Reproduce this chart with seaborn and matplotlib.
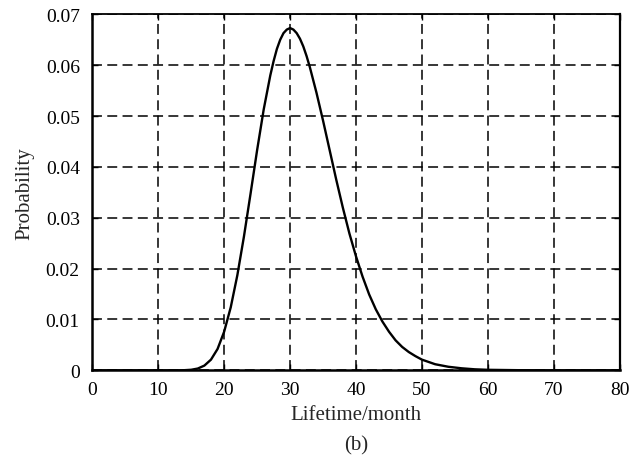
import matplotlib
matplotlib.use("Agg")
import matplotlib.pyplot as plt
import seaborn as sns
import pandas as pd

lifetime = [0, 5, 10, 13, 14, 15, 16, 17, 18, 19, 20, 21, 22, 23, 24, 25, 26, 27, 27.5,
            28, 28.5, 29, 29.5, 30, 30.5, 31, 31.5, 32, 32.5, 33, 34, 35, 36, 37, 38,
            39, 40, 41, 42, 43, 44, 45, 46, 47, 48, 49, 50, 52, 54, 56, 58, 60, 65,
            70, 75, 80]
probability = [0.0, 0.0, 0.0, 0.0, 0.00003, 0.00011, 0.00035, 0.00093, 0.0021, 0.0042,
               0.0076, 0.0124, 0.0187, 0.0263, 0.0347, 0.0433, 0.0513, 0.0580, 0.0608,
               0.0632, 0.0650, 0.0663, 0.0670, 0.0673, 0.0670, 0.0663, 0.0652, 0.0637,
               0.0618, 0.0596, 0.0546, 0.0491, 0.0433, 0.0375, 0.0320, 0.0269, 0.0224,
               0.0184, 0.0149, 0.0120, 0.0096, 0.0076, 0.0059, 0.0046, 0.0036, 0.0028,
               0.0021, 0.0012, 0.0007, 0.0004, 0.0002, 0.0001, 0.00002, 0.0, 0.0, 0.0]
x_ticks = [0, 10, 20, 30, 40, 50, 60, 70, 80]
y_ticks = [0, 0.01, 0.02, 0.03, 0.04, 0.05, 0.06, 0.07]
y_tick_labels = ["0", "0.01", "0.02", "0.03", "0.04", "0.05", "0.06", "0.07"]

sns.set_style("white")
plt.rcParams['font.family'] = ['Liberation Serif', 'DejaVu Serif']

df = pd.DataFrame({"Lifetime": lifetime, "Probability": probability})

fig = plt.figure(figsize=(6.41, 4.56), dpi=100)
ax = fig.add_axes([0.144, 0.1857, 0.8228, 0.7807])
sns.lineplot(data=df, x="Lifetime", y="Probability", ax=ax, color="black", linewidth=1.7)

ax.set_xlim(0, 80)
ax.set_ylim(0, 0.07)
ax.set_xticks(x_ticks)
ax.set_yticks(y_ticks)
ax.set_yticklabels(y_tick_labels)
ax.tick_params(axis="both", labelsize=14, direction="in", length=4, width=1.0,
               colors="black", top=True, right=True, bottom=True, left=True)
ax.tick_params(axis="x", pad=8)
ax.tick_params(axis="y", pad=9)
ax.grid(True, color="black", linestyle=(0, (6.5, 3.5)), linewidth=1.1)
for sp in ax.spines.values():
    sp.set_color("black")
    sp.set_linewidth(1.3)
    sp.set_visible(True)
ax.spines["left"].set_linewidth(1.8)
ax.spines["bottom"].set_linewidth(1.8)
ax.spines["right"].set_linewidth(1.6)

ax.set_xlabel("Lifetime/month", fontsize=15, labelpad=5)
ax.set_ylabel("Probability", fontsize=15, labelpad=8)
fig.text(0.5555, 0.012, "(b)", ha="center", va="baseline", fontsize=15)

fig.savefig("out.png", dpi=100)
